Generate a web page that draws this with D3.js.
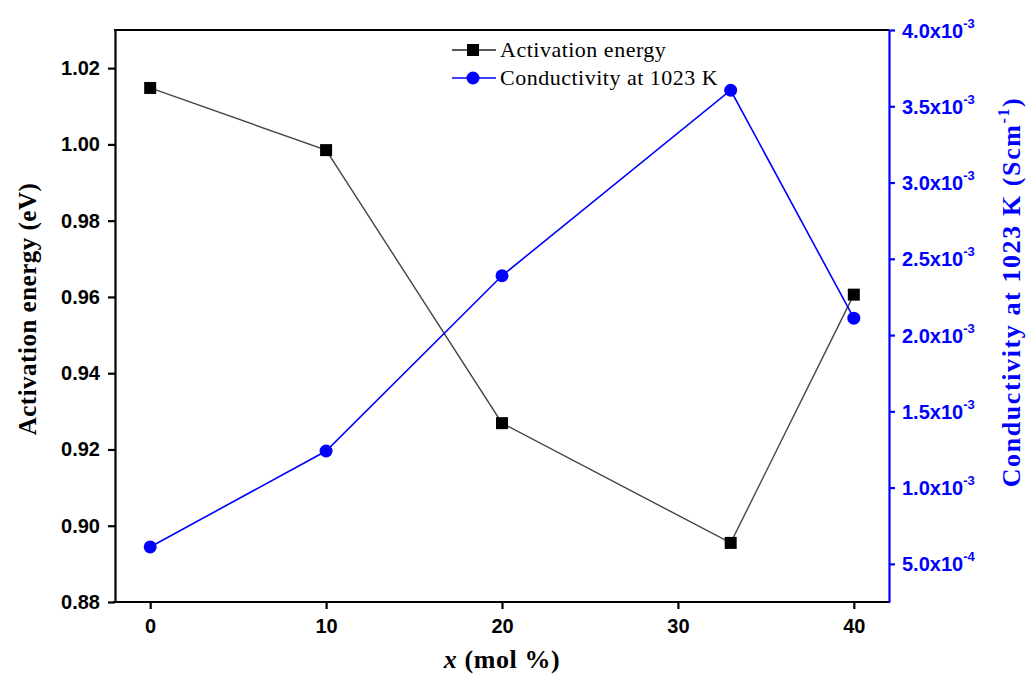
<!DOCTYPE html>
<html>
<head>
<meta charset="utf-8">
<script src="https://cdn.jsdelivr.net/npm/d3@7"></script>
<style>
  body { margin: 0; background: #fff; }
  svg { display: block; }
</style>
</head>
<body>
<div id="container"></div>
<script>
let w = 1026;
let h = 674;

// data
let xValues = [0, 10, 20, 33, 40];
let activationEnergy = [1.0148, 0.9985, 0.9269, 0.8955, 0.9606];
let conductivity = [0.611e-3, 1.24e-3, 2.389e-3, 3.605e-3, 2.111e-3];

let xTicks = [0, 10, 20, 30, 40];
let leftTicks = [0.88, 0.90, 0.92, 0.94, 0.96, 0.98, 1.00, 1.02];
let rightTicks = [0.5e-3, 1.0e-3, 1.5e-3, 2.0e-3, 2.5e-3, 3.0e-3, 3.5e-3, 4.0e-3];

let legendLabels = ["Activation energy", "Conductivity at 1023 K"];

let blue = "#0000ff";

let viz = d3.select("#container")
  .append("svg")
    .attr("width", w)
    .attr("height", h)
;

let plotLeft = 115, plotRight = 889, plotTop = 30, plotBottom = 602;

let xScale = d3.scaleLinear().domain([-2, 42]).range([plotLeft, plotRight]);
let yScale = d3.scaleLinear().domain([0.88, 1.03]).range([plotBottom, plotTop]);
let y2Scale = d3.scaleLinear().domain([0.25e-3, 4.0e-3]).range([plotBottom, plotTop]);

// X AXIS
let xAxisGroup = viz.append("g").attr("class", "xaxis")
  .attr("transform", "translate(0," + plotBottom + ")")
  .call(d3.axisBottom(xScale).tickValues(xTicks).tickSize(7).tickSizeOuter(0).tickPadding(10).tickFormat(d3.format("d")));

// Y AXIS left
let yAxisGroup = viz.append("g").attr("class", "yaxis")
  .attr("transform", "translate(" + plotLeft + ",0)")
  .call(d3.axisLeft(yScale).tickValues(leftTicks).tickSize(7).tickSizeOuter(0).tickPadding(8).tickFormat(d3.format(".2f")));

// Y AXIS right
let y2AxisGroup = viz.append("g").attr("class", "y2axis")
  .attr("transform", "translate(" + plotRight + ",0)")
  .call(d3.axisRight(y2Scale).tickValues(rightTicks).tickSize(6).tickSizeOuter(0).tickPadding(6).tickFormat(""));

[xAxisGroup, yAxisGroup].forEach(function(g){
  g.selectAll("path, line").attr("stroke", "#000").attr("stroke-width", 2.2);
  g.selectAll("text")
    .attr("fill", "#000")
    .style("font-family", "'Liberation Sans', Arial, sans-serif")
    .style("font-weight", "bold")
    .style("font-size", "20px");
});
xAxisGroup.select(".domain").attr("d", "M" + (plotLeft - 2) + ",0H" + (plotRight + 1));
y2AxisGroup.selectAll("path, line").attr("stroke", blue).attr("stroke-width", 2.2);

// right tick labels with superscript exponent
function mantissa(d){
  let e = Math.floor(Math.log10(d) + 1e-9);
  return [(d / Math.pow(10, e)).toFixed(1) + "x10", String(e)];
}
let rightLabels = y2AxisGroup.selectAll(".tick").append("text")
  .attr("x", 13)
  .attr("y", 7)
  .attr("fill", blue)
  .style("font-family", "'Liberation Sans', Arial, sans-serif")
  .style("font-weight", "bold")
  .style("font-size", "20px")
  .attr("text-anchor", "start");
rightLabels.append("tspan").text(function(d){ return mantissa(d)[0]; });
rightLabels.append("tspan")
  .attr("dy", -10)
  .style("font-size", "13px")
  .text(function(d){ return mantissa(d)[1]; });

// top frame line
viz.append("line")
  .attr("x1", plotLeft - 1).attr("x2", plotRight)
  .attr("y1", plotTop).attr("y2", plotTop)
  .attr("stroke", "#000").attr("stroke-width", 2.2);

// lines
let aeLine = d3.line()
  .x(function(d, i){ return xScale(xValues[i]); })
  .y(function(d){ return yScale(d); });
let condLine = d3.line()
  .x(function(d, i){ return xScale(xValues[i]); })
  .y(function(d){ return y2Scale(d); });

viz.append("path").datum(activationEnergy)
  .attr("d", aeLine)
  .attr("fill", "none").attr("stroke", "#444").attr("stroke-width", 1.4);
viz.append("path").datum(conductivity)
  .attr("d", condLine)
  .attr("fill", "none").attr("stroke", blue).attr("stroke-width", 1.6);

// markers
viz.selectAll(".ae").data(activationEnergy).enter()
  .append("rect")
    .attr("class", "ae")
    .attr("x", function(d, i){ return xScale(xValues[i]) - 6; })
    .attr("y", function(d){ return yScale(d) - 6; })
    .attr("width", 12).attr("height", 12)
    .attr("fill", "#000");
viz.selectAll(".cond").data(conductivity).enter()
  .append("circle")
    .attr("class", "cond")
    .attr("cx", function(d, i){ return xScale(xValues[i]); })
    .attr("cy", function(d){ return y2Scale(d); })
    .attr("r", 6.5)
    .attr("fill", blue);

// axis titles
viz.append("text")
  .attr("transform", "translate(36," + 309 + ") rotate(-90)")
  .attr("text-anchor", "middle")
  .style("font-family", "'Liberation Serif', 'Times New Roman', serif")
  .style("font-weight", "bold")
  .style("font-size", "25px")
  .style("letter-spacing", "0.5px")
  .attr("fill", "#000")
  .text("Activation energy (eV)");

let xTitle = viz.append("text")
  .attr("x", (plotLeft + plotRight) / 2)
  .attr("y", 668)
  .attr("text-anchor", "middle")
  .style("font-family", "'Liberation Serif', 'Times New Roman', serif")
  .style("font-weight", "bold")
  .style("font-size", "26px")
  .style("letter-spacing", "0.6px")
  .attr("fill", "#000");
xTitle.append("tspan").style("font-style", "italic").text("x");
xTitle.append("tspan").text(" (mol %)");

let rTitle = viz.append("text")
  .attr("transform", "translate(1020," + 292 + ") rotate(-90)")
  .attr("text-anchor", "middle")
  .style("font-family", "'Liberation Serif', 'Times New Roman', serif")
  .style("font-weight", "bold")
  .style("font-size", "26px")
  .style("letter-spacing", "1.6px")
  .attr("fill", blue);
rTitle.append("tspan").text("Conductivity at 1023 K (Scm");
rTitle.append("tspan").attr("dy", -11).style("font-size", "16px").text("-1");
rTitle.append("tspan").attr("dy", 11).text(")");

// legend
let legend = viz.append("g").attr("class", "legend");
let legendRows = legend.selectAll(".row").data(legendLabels).enter()
  .append("g")
    .attr("class", "row")
    .attr("transform", function(d, i){ return "translate(0," + (50 + i * 28) + ")"; });
legendRows.append("line")
  .attr("x1", 452).attr("x2", 496).attr("y1", 0).attr("y2", 0)
  .attr("stroke", function(d, i){ return i === 0 ? "#222" : blue; })
  .attr("stroke-width", 1.6);
legendRows.filter(function(d, i){ return i === 0; }).append("rect")
  .attr("x", 467).attr("y", -6).attr("width", 12).attr("height", 12).attr("fill", "#000");
legendRows.filter(function(d, i){ return i === 1; }).append("circle")
  .attr("cx", 473).attr("cy", 0).attr("r", 6.5).attr("fill", blue);
legendRows.append("text")
  .attr("x", 500).attr("y", 7)
  .style("font-family", "'Liberation Serif', 'Times New Roman', serif")
  .style("font-size", "22px")
  .style("letter-spacing", "0.5px")
  .attr("fill", "#000")
  .text(function(d){ return d; });
</script>
</body>
</html>
